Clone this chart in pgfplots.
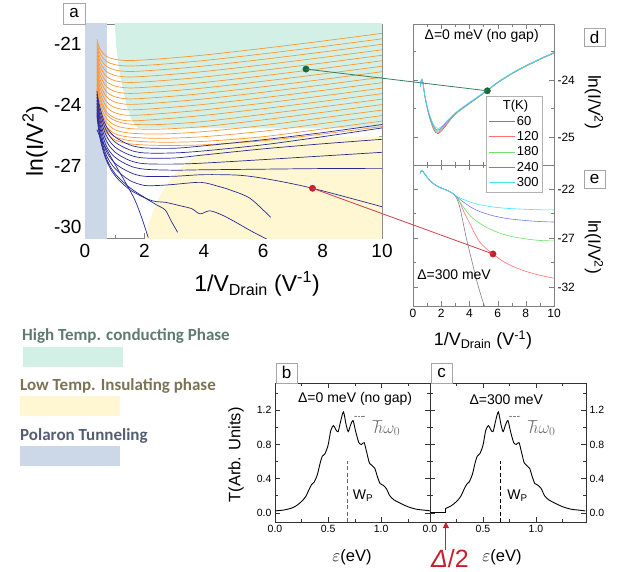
\documentclass[border=0pt]{standalone}
\usepackage{pgfplots}
\pgfplotsset{compat=1.18}
\usepackage{pgfplotstable}
\usepackage{fontspec}
\setmainfont{Liberation Sans}
\newfontfamily\legfont{Carlito}
\usetikzlibrary{arrows.meta}

\newcommand\fs[1]{\fontsize{#1}{#1}\selectfont}

\definecolor{htc}{RGB}{211,240,230}
\definecolor{lti}{RGB}{255,247,209}
\definecolor{pol}{RGB}{204,215,231}
\definecolor{htctext}{RGB}{94,123,112}
\definecolor{ltitext}{RGB}{122,116,85}
\definecolor{poltext}{RGB}{84,94,114}
\definecolor{orng}{RGB}{255,150,50}
\definecolor{navy}{RGB}{40,40,150}
\definecolor{dgreen}{RGB}{20,105,65}
\definecolor{dred}{RGB}{200,30,45}
\definecolor{t60}{RGB}{128,128,128}
\definecolor{t120}{RGB}{255,110,110}
\definecolor{t180}{RGB}{110,225,110}
\definecolor{t240}{RGB}{120,120,255}
\definecolor{t300}{RGB}{70,230,245}

\pgfplotsset{
  panel/.style={scale only axis, anchor=north west,
    axis line style={gray}, tick style={gray},
    major tick length=5pt, minor tick length=3pt,
    /pgf/number format/assume math mode=true},
  fix1/.style={/pgf/number format/.cd, fixed, fixed zerofill, precision=1},
}

% orange curves of panel a (one column per temperature)
\pgfplotstableread{
x   o0     o1     o2     o3     o4     o5     o6     o7     o8     o9     o10    o11    o12    o13    o14    o15    o16    o17
0.4 -20.75 -20.91 -21.07 -21.23 -21.39 -21.55 -21.71 -21.87 -22.03 -22.19 -22.35 -22.51 -22.67 -22.83 -22.99 -23.15 -23.31 -23.47
0.5 -21.22 -21.43 -21.64 -21.85 -22.06 -22.27 -22.48 -22.69 -22.90 -23.11 -23.32 -23.53 -23.70 -23.90 -24.10 -24.30 -24.45 -24.60
0.7 -21.57 -21.82 -22.06 -22.31 -22.55 -22.80 -23.04 -23.29 -23.54 -23.78 -24.03 -24.27 -24.40 -24.60 -24.80 -25.00 -25.15 -25.30
1.0 -21.74 -22.00 -22.26 -22.53 -22.79 -23.05 -23.32 -23.58 -23.84 -24.11 -24.37 -24.63 -24.75 -24.98 -25.20 -25.40 -25.55 -25.70
1.5 -21.80 -22.07 -22.34 -22.61 -22.88 -23.15 -23.42 -23.69 -23.96 -24.23 -24.50 -24.77 -24.93 -25.15 -25.37 -25.57 -25.74 -25.90
2.5 -21.72 -21.99 -22.26 -22.53 -22.80 -23.07 -23.34 -23.61 -23.88 -24.15 -24.42 -24.69 -24.95 -25.18 -25.42 -25.63 -25.82 -25.98
4   -21.53 -21.80 -22.07 -22.34 -22.61 -22.88 -23.15 -23.42 -23.69 -23.96 -24.23 -24.50 -24.80 -25.05 -25.30 -25.55 -25.78 -25.95
6   -21.20 -21.47 -21.74 -22.01 -22.28 -22.55 -22.82 -23.09 -23.36 -23.63 -23.90 -24.17 -24.45 -24.72 -25.00 -25.28 -25.55 -25.75
8   -20.84 -21.11 -21.38 -21.65 -21.92 -22.19 -22.46 -22.73 -23.00 -23.27 -23.54 -23.81 -24.08 -24.35 -24.62 -24.90 -25.17 -25.42
10  -20.46 -20.73 -21.00 -21.27 -21.54 -21.81 -22.08 -22.35 -22.62 -22.89 -23.16 -23.43 -23.70 -23.97 -24.24 -24.51 -24.78 -25.05
}\orangetab

% transmission T(eps), panels b and c
\pgfplotstableread{
x     y
0.00  0.02
0.08  0.03
0.15  0.05
0.20  0.08
0.25  0.13
0.29  0.19
0.32  0.27
0.345 0.33
0.37  0.36
0.40  0.45
0.425 0.58
0.445 0.66
0.47  0.69
0.50  0.79
0.525 0.96
0.55  1.02
0.575 0.97
0.595 0.95
0.62  1.08
0.645 1.18
0.67  1.03
0.69  0.95
0.71  1.02
0.735 1.08
0.76  0.95
0.79  0.82
0.815 0.80
0.84  0.82
0.865 0.70
0.89  0.58
0.915 0.55
0.94  0.52
0.965 0.42
0.99  0.34
1.02  0.32
1.05  0.28
1.08  0.20
1.12  0.15
1.18  0.11
1.25  0.07
1.33  0.04
1.40  0.03
1.465 0.02
}\tcurve

\begin{document}
\begin{tikzpicture}[x=1pt,y=1pt]
\useasboundingbox (0,0) rectangle (634,-572);

% ---------------- panel a ----------------
\begin{axis}[panel, at={(85pt,-24pt)}, width=297pt, height=214pt,
  xmin=0, xmax=10, ymin=-30.54, ymax=-20,
  xtick={0,2,...,10}, minor xtick={1,3,...,9},
  ytick={-30,-27,-24,-21}, minor ytick={-28.5,-25.5,-22.5},
  ticklabel style={font=\fs{19}}, xticklabel style={yshift=-3pt}]
  \addplot[draw=none, fill=pol] coordinates {(0,-31)(0.74,-31)(0.74,-19)(0,-19)} -- cycle;
  \addplot[draw=none, fill=htc] coordinates {(1.0,-19)(10.5,-19)(10.5,-25.14)(1.8,-25.14)(1.57,-24.73)(1.4,-24)(1.25,-23)(1.12,-22)(1.05,-21)(1.0,-20)} -- cycle;
  \addplot[draw=none, fill=lti] coordinates {(2.0,-31)(10.5,-31)(10.5,-25.55)(5.2,-25.55)(4.8,-25.65)(4.3,-25.95)(3.8,-26.45)(3.3,-27.0)(3.0,-27.45)(2.58,-28.3)(2.3,-29.2)(2.13,-29.9)(2.02,-30.6)} -- cycle;
  \pgfplotsinvokeforeach{0,...,17}{
    \addplot[orng, line width=0.7pt, smooth] table[x=x, y=o#1] {\orangetab};
  }
  \addplot[navy, line width=0.7pt, smooth] coordinates {(0.4,-23.3)(0.5,-24.1)(0.7,-25.0)(1.0,-25.55)(1.5,-25.95)(2.0,-26.1)(3,-26.12)(4,-26.0)(6,-25.7)(8,-25.35)(10,-24.95)};
  \addplot[navy, line width=0.7pt, smooth] coordinates {(0.4,-23.45)(0.5,-24.3)(0.7,-25.2)(1.0,-25.8)(1.5,-26.2)(2.0,-26.35)(3,-26.35)(4,-26.25)(6,-25.95)(8,-25.55)(10,-25.12)};
  \addplot[navy, line width=0.7pt, smooth] coordinates {(0.4,-23.6)(0.5,-24.5)(0.7,-25.45)(1.0,-26.05)(1.5,-26.45)(2.0,-26.6)(3,-26.6)(4,-26.45)(6,-26.15)(8,-25.9)(10,-25.68)};
  \addplot[navy, line width=0.7pt, smooth] coordinates {(0.4,-23.75)(0.5,-24.7)(0.7,-25.7)(1.0,-26.3)(1.5,-26.72)(2.0,-26.88)(3,-26.9)(4,-26.85)(6,-26.68)(8,-26.5)(10,-26.32)};
  \addplot[navy, line width=0.7pt, smooth] coordinates {(0.4,-23.9)(0.5,-24.9)(0.7,-25.95)(1.0,-26.55)(1.5,-26.98)(2.0,-27.15)(3,-27.2)(4,-27.18)(6,-27.15)(8,-27.12)(10,-27.11)};
  \addplot[navy, line width=0.7pt, smooth] coordinates {(0.4,-24.05)(0.5,-25.1)(0.7,-26.2)(1.0,-26.85)(1.5,-27.3)(2.0,-27.5)(3,-27.5)(4,-27.42)(5.2,-27.45)(6.2,-27.65)(7.66,-28.09)(10,-29.0)};
  \addplot[navy, line width=0.7pt, smooth] coordinates {(0.4,-24.2)(0.5,-25.3)(0.7,-26.4)(1.0,-27.1)(1.5,-27.7)(2.0,-27.95)(2.5,-27.95)(3.0,-27.9)(3.9,-27.8)(4.5,-28.0)(4.9,-28.18)(5.56,-28.59)(6.25,-29.52)};
  \addplot[navy, line width=0.7pt, smooth] coordinates {(0.4,-24.35)(0.5,-25.45)(0.7,-26.55)(1.0,-27.35)(1.5,-28.05)(2.08,-28.6)(2.4,-28.75)(2.7,-28.78)(3.2,-28.95)(3.6,-29.1)(3.87,-29.35)(4.2,-29.2)(4.6,-29.4)(5.0,-29.7)(5.6,-30.2)(6.25,-30.69)};
  \addplot[navy, line width=0.7pt, smooth] coordinates {(0.4,-24.5)(0.5,-25.6)(0.7,-26.65)(1.0,-27.45)(1.5,-28.15)(2.08,-28.62)(2.4,-28.9)(2.7,-29.16)(2.9,-29.7)(3.12,-30.26)};
  \addplot[navy, line width=0.7pt, smooth] coordinates {(0.4,-25.2)(0.55,-25.7)(0.7,-26.1)(1.12,-27.19)(1.4,-27.9)(1.68,-28.67)(1.9,-29.5)(2.13,-30.52)};
  \addplot[only marks, mark=*, mark size=3.2pt, dgreen] coordinates {(7.44,-22.22)};
  \addplot[only marks, mark=*, mark size=3.2pt, dred] coordinates {(7.66,-28.09)};
  \coordinate (ga) at (axis cs:7.44,-22.22);
  \coordinate (ra) at (axis cs:7.66,-28.09);
\end{axis}

% ---------------- panel e ----------------
\begin{axis}[panel, at={(413pt,-165pt)}, width=141pt, height=141pt,
  xmin=0, xmax=10, ymin=-33.94, ymax=-19.55,
  xtick={0,2,...,10}, minor xtick={1,3,...,9},
  ytick={-32,-27,-22}, minor ytick={-29.5,-24.5},
  yticklabel pos=right, ticklabel style={font=\fs{12}}]
  \addplot[t60, line width=0.6pt, smooth] coordinates {(0.5,-20.4)(0.6,-20.13)(0.7,-20.2)(1.0,-20.8)(1.42,-21.42)(1.9,-21.85)(2.36,-22.1)(2.7,-22.35)(2.96,-22.61)(3.1,-22.95)(3.31,-23.8)(3.55,-25.4)(3.78,-27.0)(4.1,-28.9)(4.49,-31.2)(4.85,-33.0)(5.2,-34.5)};
  \addplot[t120, line width=0.6pt, smooth] coordinates {(0.5,-20.4)(0.6,-20.13)(0.7,-20.2)(1.0,-20.8)(1.42,-21.42)(1.9,-21.85)(2.36,-22.1)(2.7,-22.35)(2.96,-22.61)(3.1,-22.9)(3.31,-23.3)(3.6,-24.3)(4.02,-25.5)(4.4,-26.6)(4.73,-27.4)(5.2,-28.1)(5.67,-28.63)(6.3,-29.3)(7.09,-29.9)(8,-30.4)(9,-30.8)(10,-31.1)};
  \addplot[t180, line width=0.6pt, smooth] coordinates {(0.5,-20.4)(0.6,-20.13)(0.7,-20.2)(1.0,-20.8)(1.42,-21.42)(1.9,-21.85)(2.36,-22.1)(2.7,-22.35)(2.96,-22.61)(3.1,-22.85)(3.55,-23.8)(4.1,-24.8)(4.73,-25.5)(5.4,-26.05)(6.15,-26.5)(7,-26.85)(8.04,-27.1)(9,-27.25)(10,-27.3)};
  \addplot[t240, line width=0.6pt, smooth] coordinates {(0.5,-20.4)(0.6,-20.13)(0.7,-20.2)(1.0,-20.8)(1.42,-21.42)(1.9,-21.85)(2.36,-22.1)(2.7,-22.35)(2.96,-22.61)(3.1,-22.8)(3.55,-23.3)(4.1,-23.85)(4.73,-24.3)(5.6,-24.7)(6.62,-25.0)(8,-25.22)(9,-25.32)(10,-25.37)};
  \addplot[t300, line width=0.6pt, smooth] coordinates {(0.5,-20.4)(0.6,-20.13)(0.7,-20.2)(1.0,-20.8)(1.42,-21.42)(1.9,-21.85)(2.36,-22.1)(2.7,-22.35)(2.96,-22.61)(3.1,-22.75)(3.55,-23.05)(4.1,-23.35)(4.73,-23.6)(5.6,-23.82)(6.62,-23.97)(8,-24.07)(9,-24.12)(10,-24.14)};
  \addplot[only marks, mark=*, mark size=3.2pt, dred] coordinates {(5.67,-28.63)};
  \coordinate (re) at (axis cs:5.67,-28.63);
  \node[font=\fs{14}] at (axis cs:2.91,-30.78) {Δ=300 meV};
\end{axis}

% ---------------- panel d ----------------
\begin{axis}[panel, at={(413pt,-24pt)}, width=141pt, height=141pt,
  xmin=0, xmax=10, ymin=-25.49, ymax=-23.02,
  xtick={0,2,...,10}, minor xtick={1,3,...,9}, xticklabels={},
  ytick={-25,-24}, minor ytick={-25.5,-24.5,-23.5},
  yticklabel pos=right, ticklabel style={font=\fs{12}},
  legend style={at={(rel axis cs:0.518,0.489)}, anchor=north west,
    draw=gray!60, fill=white, font=\fs{13}, row sep=0.8pt,
    inner sep=2pt, cells={anchor=west}},
  legend image code/.code={\draw[#1] (0pt,0pt) -- (26pt,0pt);}]
  \addlegendimage{empty legend}\addlegendentry{\hspace*{-14pt}\fs{13}T(K)}
  \addplot[t60, line width=0.6pt, smooth] coordinates {(0.52,-24.12)(0.6,-23.99)(0.7,-24.05)(0.85,-24.3)(1.06,-24.55)(1.25,-24.72)(1.42,-24.84)(1.6,-24.92)(1.77,-24.94)(2.0,-24.9)(2.4,-24.78)(2.84,-24.64)(3.4,-24.52)(4.02,-24.41)(5.25,-24.19)(6,-24.05)(7.09,-23.88)(8,-23.76)(9,-23.64)(10,-23.53)};
  \addlegendentry{60}
  \addplot[t120, line width=0.6pt, smooth] coordinates {(0.52,-24.12)(0.6,-23.99)(0.7,-24.05)(0.85,-24.3)(1.06,-24.55)(1.25,-24.71)(1.42,-24.83)(1.6,-24.9)(1.77,-24.92)(2.0,-24.88)(2.4,-24.77)(2.84,-24.64)(3.4,-24.52)(4.02,-24.41)(5.25,-24.19)(6,-24.05)(7.09,-23.88)(8,-23.76)(9,-23.64)(10,-23.53)};
  \addlegendentry{120}
  \addplot[t180, line width=0.6pt, smooth] coordinates {(0.52,-24.12)(0.6,-23.99)(0.7,-24.05)(0.85,-24.3)(1.06,-24.54)(1.25,-24.7)(1.42,-24.81)(1.6,-24.88)(1.77,-24.9)(2.0,-24.86)(2.4,-24.76)(2.84,-24.63)(3.4,-24.52)(4.02,-24.41)(5.25,-24.19)(6,-24.05)(7.09,-23.88)(8,-23.76)(9,-23.64)(10,-23.52)};
  \addlegendentry{180}
  \addplot[t240, line width=0.6pt, smooth] coordinates {(0.52,-24.12)(0.6,-23.99)(0.7,-24.05)(0.85,-24.29)(1.06,-24.53)(1.25,-24.69)(1.42,-24.79)(1.6,-24.86)(1.77,-24.88)(2.0,-24.84)(2.4,-24.74)(2.84,-24.62)(3.4,-24.51)(4.02,-24.4)(5.25,-24.18)(6,-24.04)(7.09,-23.87)(8,-23.75)(9,-23.63)(10,-23.52)};
  \addlegendentry{240}
  \addplot[t300, line width=0.6pt, smooth] coordinates {(0.52,-24.12)(0.6,-23.99)(0.7,-24.05)(0.85,-24.28)(1.06,-24.51)(1.25,-24.66)(1.42,-24.76)(1.6,-24.83)(1.77,-24.85)(2.0,-24.82)(2.4,-24.72)(2.84,-24.61)(3.4,-24.5)(4.02,-24.39)(5.25,-24.18)(6,-24.04)(7.09,-23.87)(8,-23.75)(9,-23.63)(10,-23.52)};
  \addlegendentry{300}
  \addplot[only marks, mark=*, mark size=3.2pt, dgreen, forget plot] coordinates {(5.27,-24.19)};
  \coordinate (gd) at (axis cs:5.27,-24.19);
  \node[font=\fs{14}] at (axis cs:4.87,-23.23) {Δ=0 meV (no gap)};
\end{axis}

% ---------------- panel b ----------------
\begin{axis}[panel, at={(275pt,-383pt)}, width=155pt, height=139pt,
  axis line style={black!80}, tick style={black!80},
  xmin=0, xmax=1.46, ymin=-0.11, ymax=1.52,
  xtick={0,0.5,1}, minor xtick={0.25,0.75,1.25},
  ytick={0,0.4,0.8,1.2}, minor ytick={0.2,0.6,1.0,1.4},
  ticklabel style={font=\fs{10.5}, fix1}]
  \addplot[black, line width=0.9pt, smooth, tension=0.45] table[x=x, y=y] {\tcurve};
  \addplot[gray!80!black, line width=1.2pt, dash pattern=on 4pt off 2.5pt] coordinates {(0.68,-0.11)(0.68,0.6)};
  \node[font=\fs{14}] at (axis cs:0.755,1.33) {Δ=0 meV (no gap)};
  \node[font=\fs{14}] at (axis cs:0.83,0.2) {W\textsubscript{P}};
  \node[font=\fs{17}, text=gray!85!black] at (axis cs:1.05,0.99) {$\hbar\omega_0$};
  \draw[gray, densely dotted, {Stealth[length=1.5pt]}-{Stealth[length=1.5pt]}] (axis cs:0.745,1.13) -- (axis cs:0.85,1.13);
\end{axis}

% ---------------- panel c ----------------
\begin{axis}[panel, at={(430pt,-383pt)}, width=156pt, height=139pt,
  axis line style={black!80}, tick style={black!80},
  xmin=0, xmax=1.472, ymin=-0.11, ymax=1.52,
  xtick={0,0.5,1}, minor xtick={0.25,0.75,1.25},
  ytick={0,0.4,0.8,1.2}, minor ytick={0.2,0.6,1.0,1.4},
  yticklabel pos=right, ticklabel style={font=\fs{10.5}, fix1}]
  \addplot[black, line width=0.9pt] coordinates {(0,0)(0.15,0)(0.15,0.05)};
  \addplot[black, line width=0.9pt, smooth, tension=0.45, restrict x to domain=0.149:2] table[x=x, y=y] {\tcurve};
  \addplot[black, line width=0.8pt, dash pattern=on 4pt off 2.5pt] coordinates {(0.668,-0.11)(0.668,0.6)};
  \node[font=\fs{14}] at (axis cs:0.72,1.33) {Δ=300 meV};
  \node[font=\fs{14}] at (axis cs:0.825,0.2) {W\textsubscript{P}};
  \node[font=\fs{17}, text=gray!85!black] at (axis cs:1.055,0.99) {$\hbar\omega_0$};
  \draw[gray, densely dotted, {Stealth[length=1.5pt]}-{Stealth[length=1.5pt]}] (axis cs:0.745,1.13) -- (axis cs:0.85,1.13);
  \coordinate (arr) at (axis cs:0.15,-0.11);
\end{axis}

% connecting lines and arrow
\draw[dgreen!85!white, line width=0.8pt] (ga) -- (gd);
\draw[dred!85!white, line width=0.8pt] (ra) -- (re);
\draw[dred, line width=0.9pt, -{Triangle[length=6pt,width=6pt]}] ([yshift=-28pt]arr) -- (arr);
\node[text=dred, font=\fs{25}, anchor=base, inner sep=0pt] at (450,-567) {\textit{Δ}/2};

% axis titles
\node[rotate=90, font=\fs{23}] at (35,-141) {ln(I/V\textsuperscript{2})};
\node[font=\fs{23}] at (257,-284) {1/V\textsubscript{Drain} (V\textsuperscript{-1})};
\node[rotate=-90, font=\fs{17.5}] at (594,-102) {ln(I/V\textsuperscript{2})};
\node[rotate=-90, font=\fs{17.5}] at (594,-247) {ln(I/V\textsuperscript{2})};
\node[font=\fs{18}] at (483,-340) {1/V\textsubscript{Drain} (V\textsuperscript{-1})};
\node[rotate=90, font=\fs{16.5}] at (236,-455) {T(Arb. Units)};
\node[font=\fs{16.5}] at (352,-557) {$\varepsilon$(eV)};
\node[font=\fs{16.5}] at (502,-557) {$\varepsilon$(eV)};

% panel letters
\node[draw=gray!70, fill=white, minimum width=22pt, minimum height=21pt, inner sep=0pt, font=\fs{17}, anchor=south west] at (63,-24) {a};
\node[draw=gray!70, fill=white, minimum width=21pt, minimum height=20pt, inner sep=0pt, font=\fs{17}, anchor=south west] at (276,-383) {b};
\node[draw=gray!70, fill=white, minimum width=21pt, minimum height=20pt, inner sep=0pt, font=\fs{17}, anchor=south west] at (431,-383) {c};
\node[draw=gray!70, fill=white, minimum width=21pt, minimum height=18pt, inner sep=0pt, font=\fs{17}, anchor=north west] at (584,-28) {d};
\node[draw=gray!70, fill=white, minimum width=21pt, minimum height=18pt, inner sep=0pt, font=\fs{17}, anchor=north west] at (584,-170) {e};

% phase key
\node[anchor=base west, inner sep=0pt, text=htctext, font=\legfont\bfseries\fs{17}] at (22,-340) {High Temp. conducting Phase};
\fill[htc] (23,-347) rectangle (123,-367);
\node[anchor=base west, inner sep=0pt, text=ltitext, font=\legfont\bfseries\fs{17}] at (20,-390) {Low Temp. Insulating phase};
\fill[lti] (20,-396) rectangle (120,-416);
\node[anchor=base west, inner sep=0pt, text=poltext, font=\legfont\bfseries\fs{17}] at (20,-440) {Polaron Tunneling};
\fill[pol] (20,-446) rectangle (120,-466);
\end{tikzpicture}
\end{document}
